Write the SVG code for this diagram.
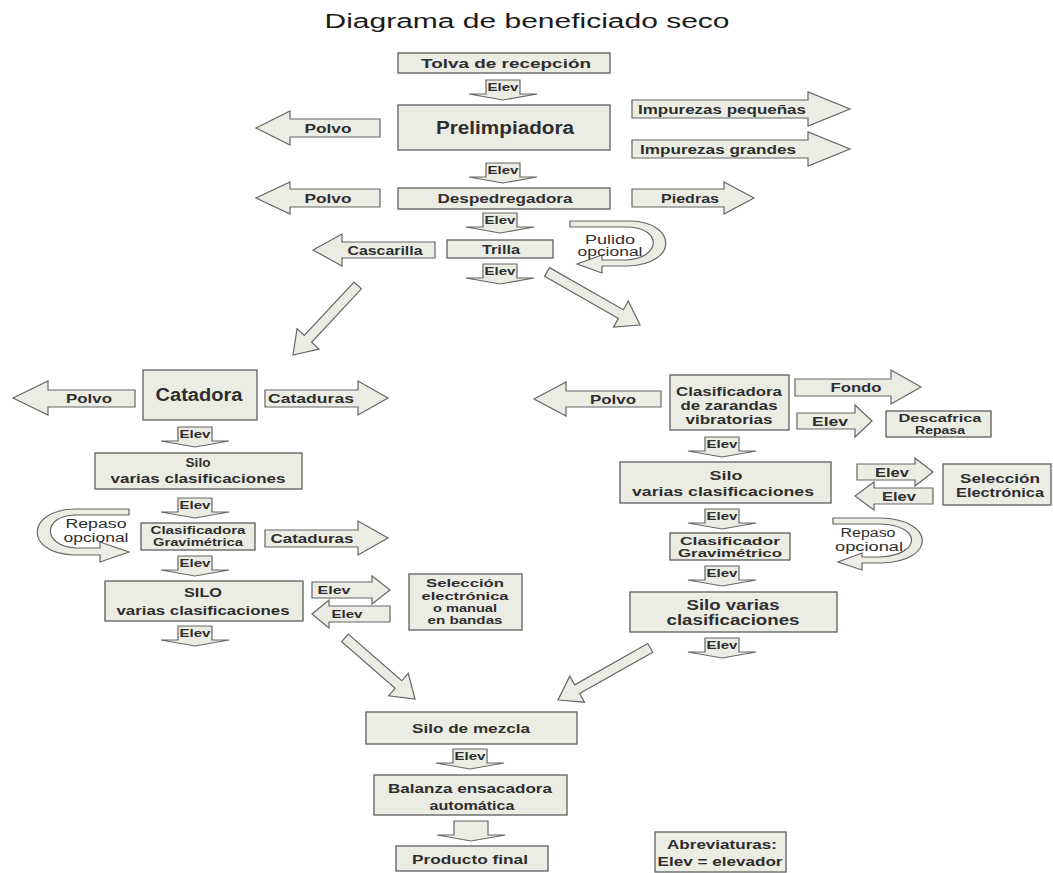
<svg xmlns="http://www.w3.org/2000/svg" width="1053" height="873" viewBox="0 0 1053 873">
<defs>
<style>
.bx{fill:#ebede5;stroke:#5f5f5f;stroke-width:1.3}
.ar{fill:#ebede5;stroke:#666666;stroke-width:1.2;stroke-linejoin:miter}
.t{font-family:"Liberation Sans",Arial,sans-serif;font-weight:bold;fill:#2e2e2e;text-anchor:middle;font-size:13px}
.s{font-size:11px}
.e{font-size:10.5px}
.b{font-size:18px}
.n{font-weight:normal;font-size:12.5px}
</style>
<polygon id="down" class="ar" points="-17,0 17,0 17,14 34,14 0,20 -34,14 -17,14"/>
</defs>
<rect width="1053" height="873" fill="#ffffff"/>
<text x="527" y="28" font-family="Liberation Sans, Arial, sans-serif" font-size="20" fill="#1a1a1a" text-anchor="middle" textLength="405" lengthAdjust="spacingAndGlyphs">Diagrama de beneficiado seco</text>

<g id="connectors">
<g><use href="#down" x="503" y="80"/><text class="t e" x="503" y="91" textLength="31" lengthAdjust="spacingAndGlyphs">Elev</text></g>
<g><use href="#down" x="503" y="163"/><text class="t e" x="503" y="174" textLength="31" lengthAdjust="spacingAndGlyphs">Elev</text></g>
<g><use href="#down" x="500" y="213"/><text class="t e" x="500" y="224" textLength="31" lengthAdjust="spacingAndGlyphs">Elev</text></g>
<g><use href="#down" x="500" y="264"/><text class="t e" x="500" y="275" textLength="31" lengthAdjust="spacingAndGlyphs">Elev</text></g>
<g><use href="#down" x="195" y="427"/><text class="t e" x="195" y="438" textLength="31" lengthAdjust="spacingAndGlyphs">Elev</text></g>
<g><use href="#down" x="195" y="498"/><text class="t e" x="195" y="509" textLength="31" lengthAdjust="spacingAndGlyphs">Elev</text></g>
<g><use href="#down" x="195" y="556"/><text class="t e" x="195" y="567" textLength="31" lengthAdjust="spacingAndGlyphs">Elev</text></g>
<g><use href="#down" x="195" y="626"/><text class="t e" x="195" y="637" textLength="31" lengthAdjust="spacingAndGlyphs">Elev</text></g>
<g><use href="#down" x="722" y="437"/><text class="t e" x="722" y="448" textLength="31" lengthAdjust="spacingAndGlyphs">Elev</text></g>
<g><use href="#down" x="722" y="509"/><text class="t e" x="722" y="520" textLength="31" lengthAdjust="spacingAndGlyphs">Elev</text></g>
<g><use href="#down" x="722" y="566"/><text class="t e" x="722" y="577" textLength="31" lengthAdjust="spacingAndGlyphs">Elev</text></g>
<g><use href="#down" x="722" y="638"/><text class="t e" x="722" y="649" textLength="31" lengthAdjust="spacingAndGlyphs">Elev</text></g>
<g><use href="#down" x="470" y="749"/><text class="t e" x="470" y="760" textLength="31" lengthAdjust="spacingAndGlyphs">Elev</text></g>
<use href="#down" x="471" y="821"/>
<polygon class="ar" transform="translate(293,355) rotate(132.9)" points="0,0 -22,-15 -22,-5 -95,-5 -95,5 -22,5 -22,15"/>
<polygon class="ar" transform="translate(640,325) rotate(29.7)" points="0,0 -22,-15 -22,-5 -107,-5 -107,5 -22,5 -22,15"/>
<polygon class="ar" transform="translate(415,699) rotate(41.1)" points="0,0 -22,-15 -22,-5 -93,-5 -93,5 -22,5 -22,15"/>
<polygon class="ar" transform="translate(558,700) rotate(150.5)" points="0,0 -22,-15 -22,-5 -106,-5 -106,5 -22,5 -22,15"/>
</g>

<g id="tolva"><rect class="bx" x="398" y="53" width="212" height="20"/><text class="t" x="506" y="68" textLength="170" lengthAdjust="spacingAndGlyphs">Tolva de recepción</text></g>
<g id="prelimpiadora"><rect class="bx" x="398" y="105" width="212" height="45"/><text class="t b" x="505" y="134" textLength="138" lengthAdjust="spacingAndGlyphs">Prelimpiadora</text></g>
<g id="polvo1"><polygon class="ar" points="256,128 290,111 290,119 380,119 380,137 290,137 290,145"/><text class="t" x="328" y="133" textLength="47" lengthAdjust="spacingAndGlyphs">Polvo</text></g>
<g id="imp-peq"><polygon class="ar" points="632,100 808,100 808,92 850,109 808,126 808,118 632,118"/><text class="t" x="722" y="114" textLength="168" lengthAdjust="spacingAndGlyphs">Impurezas pequeñas</text></g>
<g id="imp-gra"><polygon class="ar" points="632,140 808,140 808,132 850,149 808,166 808,158 632,158"/><text class="t" x="718" y="154" textLength="156" lengthAdjust="spacingAndGlyphs">Impurezas grandes</text></g>
<g id="despedregadora"><rect class="bx" x="398" y="188" width="212" height="21"/><text class="t" x="505" y="203" textLength="135" lengthAdjust="spacingAndGlyphs">Despedregadora</text></g>
<g id="polvo2"><polygon class="ar" points="256,198 290,182 290,189 380,189 380,207 290,207 290,214"/><text class="t" x="328" y="203" textLength="47" lengthAdjust="spacingAndGlyphs">Polvo</text></g>
<g id="piedras"><polygon class="ar" points="632,189 724,189 724,182 754,198 724,214 724,207 632,207"/><text class="t" x="690" y="203" textLength="58" lengthAdjust="spacingAndGlyphs">Piedras</text></g>
<g id="trilla"><rect class="bx" x="447" y="240" width="106" height="18"/><text class="t" x="501" y="254" textLength="38" lengthAdjust="spacingAndGlyphs">Trilla</text></g>
<g id="cascarilla"><polygon class="ar" points="313,250 342,234 342,242 435,242 435,258 342,258 342,266"/><text class="t" x="385" y="255" textLength="75" lengthAdjust="spacingAndGlyphs">Cascarilla</text></g>
<g id="pulido"><path class="ar" d="M570 221 L630 221 C677 222 679 264 628 266 L602 266 L602 273 L577 264 L602 255 L602 260 L626 260 C662 258 662 228 628 227 L570 227 Z"/><text class="t n" x="610" y="244" textLength="50" lengthAdjust="spacingAndGlyphs">Pulido</text><text class="t n" x="610" y="256" textLength="65" lengthAdjust="spacingAndGlyphs">opcional</text></g>

<g id="catadora"><rect class="bx" x="143" y="370" width="114" height="50"/><text class="t b" x="199" y="401" textLength="87" lengthAdjust="spacingAndGlyphs">Catadora</text></g>
<g id="polvo3"><polygon class="ar" points="13,398 48,381 48,390 135,390 135,407 48,407 48,415"/><text class="t" x="89" y="403" textLength="46" lengthAdjust="spacingAndGlyphs">Polvo</text></g>
<g id="cataduras1"><polygon class="ar" points="265,390 358,390 358,381 388,398 358,415 358,407 265,407"/><text class="t" x="311" y="403" textLength="86" lengthAdjust="spacingAndGlyphs">Cataduras</text></g>
<g id="silo-l1"><rect class="bx" x="95" y="453" width="207" height="36"/><text class="t" x="198" y="467" textLength="25" lengthAdjust="spacingAndGlyphs">Silo</text><text class="t" x="198" y="483" textLength="175" lengthAdjust="spacingAndGlyphs">varias clasificaciones</text></g>
<g id="repaso-l"><path class="ar" d="M129 509 L75 509 C26 510 24 553 73 555 L100 555 L100 562 L129 552 L100 542 L100 548 L76 548 C42 546 42 516 75 515 L129 515 Z"/><text class="t n" x="96" y="528" textLength="61" lengthAdjust="spacingAndGlyphs">Repaso</text><text class="t n" x="96" y="542" textLength="65" lengthAdjust="spacingAndGlyphs">opcional</text></g>
<g id="clasif-grav-l"><rect class="bx" x="141" y="523" width="114" height="27"/><text class="t s" x="198" y="534" textLength="95" lengthAdjust="spacingAndGlyphs">Clasificadora</text><text class="t s" x="198" y="546" textLength="90" lengthAdjust="spacingAndGlyphs">Gravimétrica</text></g>
<g id="cataduras2"><polygon class="ar" points="265,530 358,530 358,521 388,538 358,555 358,547 265,547"/><text class="t" x="312" y="543" textLength="83" lengthAdjust="spacingAndGlyphs">Cataduras</text></g>
<g id="silo-l2"><rect class="bx" x="105" y="581" width="198" height="40"/><text class="t" x="203" y="597" textLength="38" lengthAdjust="spacingAndGlyphs">SILO</text><text class="t" x="203" y="615" textLength="173" lengthAdjust="spacingAndGlyphs">varias clasificaciones</text></g>
<g id="elev-l-out"><polygon class="ar" points="312,582 372,582 372,576 390,590 372,604 372,598 312,598"/><text class="t e" x="334" y="594" textLength="33" lengthAdjust="spacingAndGlyphs">Elev</text></g>
<g id="elev-l-in"><polygon class="ar" points="312,614 329,600 329,606 390,606 390,622 329,622 329,628"/><text class="t e" x="347" y="618" textLength="31" lengthAdjust="spacingAndGlyphs">Elev</text></g>
<g id="seleccion-l"><rect class="bx" x="409" y="574" width="113" height="56"/><text class="t s" x="465" y="587" textLength="78" lengthAdjust="spacingAndGlyphs">Selección</text><text class="t s" x="465" y="600" textLength="87" lengthAdjust="spacingAndGlyphs">electrónica</text><text class="t s" x="465" y="612" textLength="64" lengthAdjust="spacingAndGlyphs">o manual</text><text class="t s" x="465" y="624" textLength="75" lengthAdjust="spacingAndGlyphs">en bandas</text></g>

<g id="polvo4"><polygon class="ar" points="534,399 566,382 566,391 661,391 661,407 566,407 566,416"/><text class="t" x="613" y="404" textLength="46" lengthAdjust="spacingAndGlyphs">Polvo</text></g>
<g id="clasif-zar"><rect class="bx" x="670" y="375" width="119" height="55"/><text class="t" x="729" y="396" textLength="106" lengthAdjust="spacingAndGlyphs">Clasificadora</text><text class="t" x="729" y="410" textLength="97" lengthAdjust="spacingAndGlyphs">de zarandas</text><text class="t" x="729" y="424" textLength="87" lengthAdjust="spacingAndGlyphs">vibratorias</text></g>
<g id="fondo"><polygon class="ar" points="795,379 891,379 891,370 921,387 891,404 891,396 795,396"/><text class="t" x="856" y="392" textLength="51" lengthAdjust="spacingAndGlyphs">Fondo</text></g>
<g id="elev-r1"><polygon class="ar" points="797,413 855,413 855,405 872,421 855,437 855,429 797,429"/><text class="t" x="830" y="426" textLength="36" lengthAdjust="spacingAndGlyphs">Elev</text></g>
<g id="descafrica"><rect class="bx" x="886" y="411" width="105" height="26"/><text class="t s" x="940" y="422" textLength="83" lengthAdjust="spacingAndGlyphs">Descafrica</text><text class="t s" x="940" y="434" textLength="50" lengthAdjust="spacingAndGlyphs">Repasa</text></g>
<g id="silo-r1"><rect class="bx" x="620" y="462" width="211" height="41"/><text class="t" x="726" y="480" textLength="33" lengthAdjust="spacingAndGlyphs">Silo</text><text class="t" x="723" y="496" textLength="182" lengthAdjust="spacingAndGlyphs">varias clasificaciones</text></g>
<g id="elev-r-out"><polygon class="ar" points="857,464 915,464 915,458 933,472 915,486 915,480 857,480"/><text class="t" x="892" y="477" textLength="34" lengthAdjust="spacingAndGlyphs">Elev</text></g>
<g id="elev-r-in"><polygon class="ar" points="855,496 874,482 874,488 933,488 933,504 874,504 874,510"/><text class="t" x="899" y="501" textLength="34" lengthAdjust="spacingAndGlyphs">Elev</text></g>
<g id="seleccion-r"><rect class="bx" x="943" y="464" width="108" height="41"/><text class="t" x="1000" y="483" textLength="80" lengthAdjust="spacingAndGlyphs">Selección</text><text class="t" x="1000" y="497" textLength="88" lengthAdjust="spacingAndGlyphs">Electrónica</text></g>
<g id="clasif-grav-r"><rect class="bx" x="670" y="533" width="120" height="27"/><text class="t s" x="730" y="545" textLength="100" lengthAdjust="spacingAndGlyphs">Clasificador</text><text class="t s" x="730" y="557" textLength="104" lengthAdjust="spacingAndGlyphs">Gravimétrico</text></g>
<g id="repaso-r"><path class="ar" d="M833 518 L880 518 C935 519 937 561 882 563 L862 563 L862 570 L838 562 L862 553 L862 557 L880 557 C922 555 922 525 880 524 L833 524 Z"/><text class="t n" x="868" y="537" textLength="55" lengthAdjust="spacingAndGlyphs">Repaso</text><text class="t n" x="869" y="551" textLength="68" lengthAdjust="spacingAndGlyphs">opcional</text></g>
<g id="silo-r2"><rect class="bx" x="630" y="592" width="207" height="40"/><text class="t" x="733" y="610" textLength="93" lengthAdjust="spacingAndGlyphs" style="font-size:15px">Silo varias</text><text class="t" x="733" y="625" style="font-size:15px" textLength="133" lengthAdjust="spacingAndGlyphs">clasificaciones</text></g>

<g id="silo-mezcla"><rect class="bx" x="366" y="712" width="211" height="32"/><text class="t" x="471" y="733" textLength="118" lengthAdjust="spacingAndGlyphs">Silo de mezcla</text></g>
<g id="balanza"><rect class="bx" x="374" y="775" width="193" height="40"/><text class="t" x="470" y="793" textLength="164" lengthAdjust="spacingAndGlyphs">Balanza ensacadora</text><text class="t" x="472" y="810" textLength="85" lengthAdjust="spacingAndGlyphs">automática</text></g>
<g id="producto"><rect class="bx" x="396" y="846" width="152" height="25"/><text class="t" x="470" y="864" textLength="116" lengthAdjust="spacingAndGlyphs">Producto final</text></g>
<g id="abreviaturas"><rect class="bx" x="655" y="832" width="131" height="40"/><text class="t" x="722" y="849" textLength="110" lengthAdjust="spacingAndGlyphs">Abreviaturas:</text><text class="t" x="720" y="866" textLength="125" lengthAdjust="spacingAndGlyphs">Elev = elevador</text></g>
</svg>
